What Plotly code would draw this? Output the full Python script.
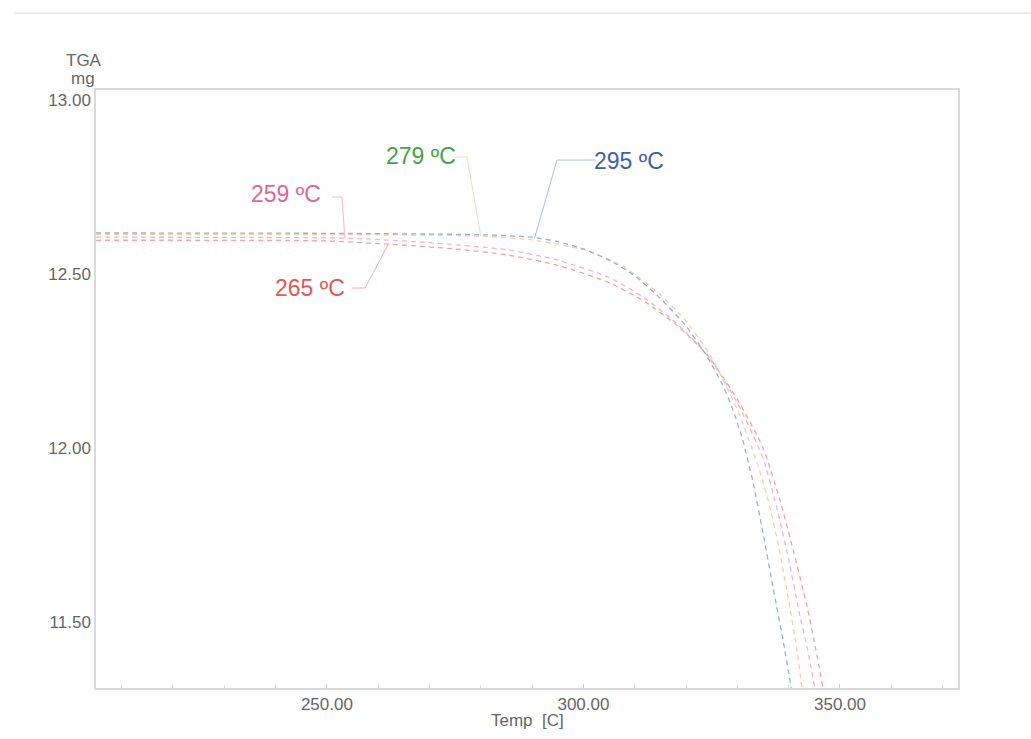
import numpy as np
import plotly.graph_objects as go

# TGA mass-loss curves (temperature in C, mass in mg)
temp_259 = [205, 250, 259, 270, 285, 295, 305, 312, 318, 324, 330, 335, 337.3, 340, 342, 343.7, 345.1]
mass_259 = [12.606, 12.604, 12.600, 12.590, 12.570, 12.540, 12.490, 12.430, 12.360, 12.270, 12.130, 11.970, 11.850, 11.680, 11.530, 11.420, 11.310]

temp_265 = [205, 250, 262, 275, 285, 295, 305, 312, 318, 324, 330, 335, 338.3, 341, 343.5, 345.3, 346.7]
mass_265 = [12.597, 12.595, 12.586, 12.572, 12.555, 12.525, 12.475, 12.420, 12.355, 12.270, 12.140, 12.000, 11.850, 11.700, 11.550, 11.420, 11.310]

temp_279 = [205, 260, 280, 290, 300, 308, 315, 320, 325, 330, 334, 336, 338, 340, 341.5, 342.6]
mass_279 = [12.614, 12.613, 12.609, 12.598, 12.570, 12.520, 12.440, 12.365, 12.260, 12.110, 11.950, 11.850, 11.720, 11.560, 11.430, 11.310]

temp_295 = [205, 250, 280, 290, 295, 300, 305, 310, 315, 320, 324, 327, 329, 331, 333, 335, 337, 339, 340.5]
mass_295 = [12.618, 12.617, 12.613, 12.606, 12.593, 12.572, 12.540, 12.495, 12.430, 12.350, 12.265, 12.185, 12.115, 12.025, 11.905, 11.755, 11.595, 11.440, 11.310]

onset_labels = ["259 ºC", "265 ºC", "279 ºC", "295 ºC"]
x_ticks = [250, 300, 350]
y_ticks = [11.5, 12.0, 12.5, 13.0]

X_RANGE = [205, 373]
Y_RANGE = [11.310, 13.029]

W, H = 1031, 739
ML, MR, MT, MB = 96, 73, 90, 51
PW, PH = W - ML - MR, H - MT - MB


def px_x(px):
    return X_RANGE[0] + (px - ML) * (X_RANGE[1] - X_RANGE[0]) / PW


def px_y(py):
    return Y_RANGE[1] - (py - MT) * (Y_RANGE[1] - Y_RANGE[0]) / PH


def paper_x(px):
    return (px - ML) / PW


def paper_y(py):
    return (H - MB - py) / PH


series = [
    (temp_259, mass_259, "#f6b3cc"),
    (temp_265, mass_265, "#f3a2a2"),
    (temp_279, mass_279, "#f3d0ab"),
    (temp_295, mass_295, "#93b2d8"),
]

fig = go.Figure()
for t, m, c in series:
    fig.add_trace(go.Scatter(
        x=t, y=m, mode="lines",
        line=dict(color=c, width=1.3, dash="5px,4px", shape="spline", smoothing=0.6),
        showlegend=False, hoverinfo="skip",
    ))

# Onset labels with elbow leader lines to the curves
label_style = [
    # text centre (px), leader start, elbow (px), tip temperature, text colour, leader colour
    ((286, 194), (332, 197), (342, 197), 253.5, "#e2649b", "#f2b8ce"),
    ((310, 288), (352, 288), (365, 288), 262.0, "#e65656", "#f3acac"),
    ((421, 156), (455, 157), (467, 157), 280.0, "#46a446", "#e8e2bd"),
    ((629, 161), (596, 160), (557, 160), 290.5, "#3b62a9", "#adbfd9"),
]
for (t, m, _), text, (ctr, p0, p1, tip_t, tc, lc) in zip(series, onset_labels, label_style):
    tip_m = float(np.interp(tip_t, t, m))
    fig.add_shape(
        type="path", xref="x", yref="y",
        path=f"M {px_x(p0[0])},{px_y(p0[1])} L {px_x(p1[0])},{px_y(p1[1])} L {tip_t},{tip_m}",
        line=dict(color=lc, width=1),
    )
    fig.add_annotation(
        x=px_x(ctr[0]), y=px_y(ctr[1]), xref="x", yref="y",
        text=text, showarrow=False,
        font=dict(family="Liberation Sans, Arial, sans-serif", size=23, color=tc),
        xanchor="center", yanchor="middle",
    )

axis_font = dict(family="Liberation Sans, Arial, sans-serif", size=17, color="#666666")

# Axis caption (top-left) and x-axis title
fig.add_annotation(x=paper_x(84), y=paper_y(61), xref="paper", yref="paper",
                   text="TGA", showarrow=False, font=axis_font,
                   xanchor="center", yanchor="middle")
fig.add_annotation(x=paper_x(83), y=paper_y(78), xref="paper", yref="paper",
                   text="mg", showarrow=False, font=axis_font,
                   xanchor="center", yanchor="middle")
fig.add_annotation(x=paper_x(527), y=paper_y(720), xref="paper", yref="paper",
                   text="Temp  [C]", showarrow=False, font=axis_font,
                   xanchor="center", yanchor="middle")

# Thin frame line across the top of the page
fig.add_shape(type="line", xref="paper", yref="paper",
              x0=paper_x(15), x1=paper_x(W), y0=paper_y(13), y1=paper_y(13),
              line=dict(color="#e4e4e4", width=1.5))

fig.update_xaxes(
    range=X_RANGE, tickvals=x_ticks, ticktext=[f"{v:.2f}" for v in x_ticks],
    showgrid=False, zeroline=False,
    showline=True, mirror=True, linecolor="#dadada", linewidth=1.5,
    ticks="inside", ticklen=4, tickcolor="#d0d0d0",
    minor=dict(dtick=10, tick0=0, ticks="inside", ticklen=3, tickcolor="#dddddd"),
    tickfont=axis_font, ticklabelstandoff=0,
)
fig.update_yaxes(
    range=Y_RANGE, tickvals=y_ticks, ticktext=[f"{v:.2f}" for v in y_ticks],
    showgrid=False, zeroline=False,
    showline=True, mirror=True, linecolor="#dadada", linewidth=1.5,
    ticks="", tickfont=axis_font, ticklabelstandoff=0,
)

fig.update_layout(
    width=W, height=H,
    margin=dict(l=ML, r=MR, t=MT, b=MB),
    paper_bgcolor="white", plot_bgcolor="white",
    showlegend=False,
)

fig.write_html("out.html")
